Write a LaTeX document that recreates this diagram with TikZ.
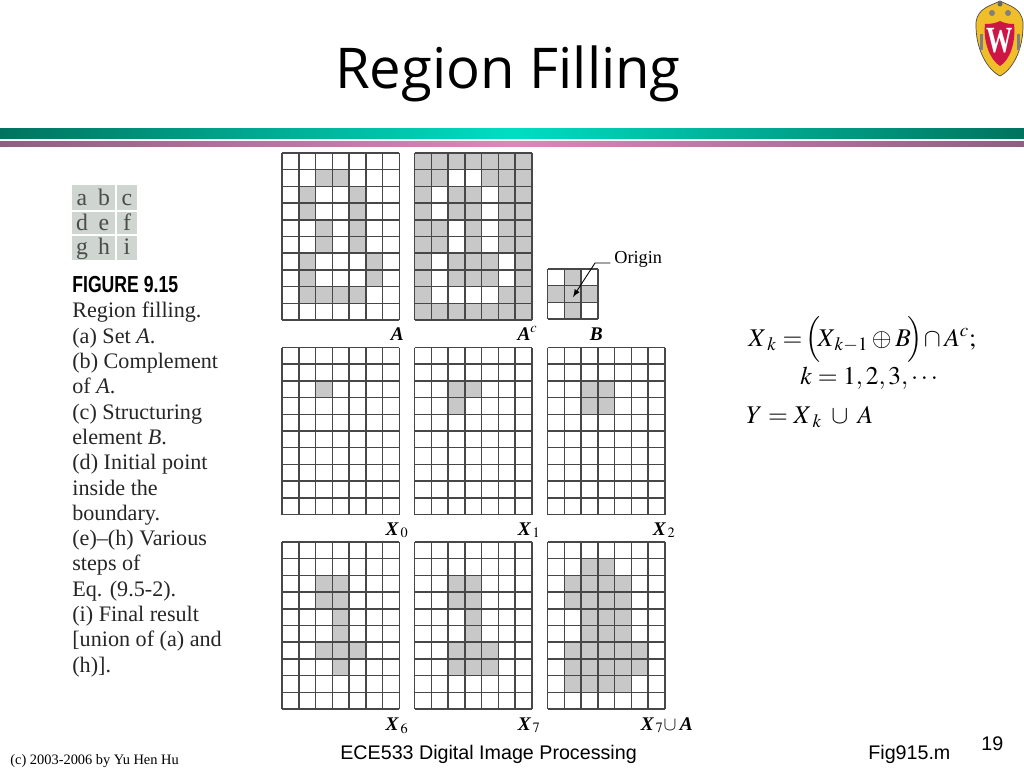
\documentclass[tikz,border=0pt]{standalone}
\usepackage{amsmath}
\usepackage{mathptmx}
\usepackage[no-math]{fontspec}
\setmainfont{Liberation Serif}
\newfontfamily\titlefont{Open Sans}
\newfontfamily\arialfont{Liberation Sans}
\definecolor{tealDark}{HTML}{00735F}
\definecolor{tealLight}{HTML}{00DEC2}
\definecolor{mauveDark}{HTML}{8F5F80}
\definecolor{mauveLight}{HTML}{DA88BA}
\definecolor{cellColor}{HTML}{C8C8C8}
\definecolor{tableColor}{HTML}{CFD5D1}
\definecolor{shieldColor}{HTML}{F0BE28}
\definecolor{crestColor}{HTML}{CE1646}
\newcommand{\boldIt}[1]{\textbf{\textit{#1}}}
\newcommand{\regionGrid}[5]{%
  \foreach \c/\r in {#5} {
    \fill[cellColor] (#1+16.75*\c,#2+16.7*\r) rectangle ++(16.75,16.7);
  }
  \foreach \c in {0,...,#3} {
    \draw[gridEdge] (#1+16.75*\c,#2) -- ++(0,16.7*#4);
  }
  \foreach \r in {0,...,#4} {
    \draw[gridEdge] (#1,#2+16.7*\r) -- ++(16.75*#3,0);
  }
}
\begin{document}
\begin{tikzpicture}[x=0.02cm,y=-0.02cm]

  \tikzstyle{gridEdge} = [line width=0.85pt, black!72];
  \tikzstyle{gridLabel} = [inner sep=0pt, anchor=base east, font=\fontsize{11}{11}\selectfont];
  \tikzstyle{formula} = [inner sep=0pt, anchor=base west, font=\fontsize{14.5}{14.5}\selectfont];
  \tikzstyle{footer} = [inner sep=0pt, anchor=base west, font=\arialfont\fontsize{11.2}{11.2}\selectfont];
  \tikzstyle{tableLetter} = [inner sep=0pt, anchor=base, text=black!70, font=\fontsize{13.5}{13.5}\selectfont];

  \useasboundingbox (0,0) rectangle (1024,768);

  % title and bars
  \node[inner sep=0pt, anchor=base, font=\titlefont\fontsize{32}{32}\selectfont] (title) at (508,88) {Region Filling};
  \shade[left color=tealDark, right color=tealLight, draw=none] (0,128) rectangle (512,138);
  \shade[left color=tealLight, right color=tealDark, draw=none] (512,128) rectangle (1024,138);
  \shade[left color=mauveDark, right color=mauveLight, draw=none] (0,141) rectangle (512,146);
  \shade[left color=mauveLight, right color=mauveDark, draw=none] (512,141) rectangle (1024,146);

  % crest
  \draw[fill=shieldColor, draw=black!70, line width=0.4pt] (1000,1) .. controls (990,6) and (978,8) .. (976,22)
    .. controls (975,50) and (988,70) .. (1000,76) .. controls (1012,70) and (1024,50) .. (1023,22)
    .. controls (1021,8) and (1010,6) .. (1000,1) -- cycle;
  \fill[black!50] (992,13) circle (3);
  \fill[black!50] (1008,13) circle (3);
  \fill[black!60] (1000,4) circle (2.5);
  \fill[black!50] (980,34) rectangle (983,50);
  \fill[black!50] (1017,34) rectangle (1020,50);
  \fill[crestColor] (985,24) .. controls (992,24) and (996,23) .. (1000,21) .. controls (1004,23) and (1008,24) .. (1014,24)
    .. controls (1016,42) and (1010,60) .. (1000,66) .. controls (990,60) and (983,42) .. (985,24) -- cycle;
  \node[inner sep=0pt, text=white, font=\bfseries\fontsize{15}{15}\selectfont] (crestW) at (1000,41) {\scalebox{1}[1.4]{W}};

  % side table
  \fill[tableColor] (72,185) rectangle (115,210);
  \fill[tableColor] (117,185) rectangle (137,210);
  \fill[tableColor] (72,212) rectangle (115,234);
  \fill[tableColor] (117,212) rectangle (137,234);
  \fill[tableColor] (72,236) rectangle (115,260);
  \fill[tableColor] (117,236) rectangle (137,260);
  \node[tableLetter] (ta) at (82,205) {a};
  \node[tableLetter] (tb) at (104,205) {b};
  \node[tableLetter] (tc) at (127,205) {c};
  \node[tableLetter] (td) at (82,230) {d};
  \node[tableLetter] (te) at (104,230) {e};
  \node[tableLetter] (tf) at (127,230) {f};
  \node[tableLetter] (tg) at (82,254) {g};
  \node[tableLetter] (th) at (104,254) {h};
  \node[tableLetter] (ti) at (127,254) {i};

  % caption
  \node[inner sep=0pt, anchor=base west, font=\arialfont\bfseries\fontsize{13.2}{13.2}\selectfont] (figName) at (72,292) {\scalebox{0.76}[1]{FIGURE 9.15}};
  \node[inner sep=0pt, anchor=north west, align=left, text=black!85, font=\fontsize{12.6}{14.4}\selectfont] (caption) at (72,302) {Region filling.\\
    (a) Set \textit{A}.\\
    (b) Complement\\
    of \textit{A}.\\
    (c) Structuring\\
    element \textit{B}.\\
    (d) Initial point\\
    inside the\\
    boundary.\\
    (e)--(h) Various\\
    steps of\\
    Eq. (9.5-2).\\
    (i) Final result\\
    {[}union of (a) and\\
    (h)].};

  % grids
  \regionGrid{282}{153}{7}{10}{2/1,3/1,1/2,4/2,1/3,4/3,2/4,4/4,2/5,4/5,1/6,5/6,1/7,5/7,1/8,2/8,3/8,4/8}
  \regionGrid{414.5}{153}{7}{10}{0/0,1/0,2/0,3/0,4/0,5/0,6/0,0/1,1/1,4/1,5/1,6/1,0/2,2/2,3/2,5/2,6/2,0/3,2/3,3/3,5/3,6/3,0/4,1/4,3/4,5/4,6/4,0/5,1/5,3/5,5/5,6/5,0/6,2/6,3/6,4/6,6/6,0/7,2/7,3/7,4/7,6/7,0/8,5/8,6/8,0/9,1/9,2/9,3/9,4/9,5/9,6/9}
  \regionGrid{547.5}{269}{3}{3}{1/0,0/1,1/1,2/1,1/2}
  \regionGrid{282}{347.5}{7}{10}{2/2}
  \regionGrid{414.5}{347.5}{7}{10}{2/2,3/2,2/3}
  \regionGrid{547.5}{347.5}{7}{10}{2/2,3/2,2/3,3/3}
  \regionGrid{282}{542}{7}{10}{2/2,3/2,2/3,3/3,3/4,3/5,2/6,3/6,4/6,3/7}
  \regionGrid{414.5}{542}{7}{10}{2/2,3/2,2/3,3/3,3/4,3/5,2/6,3/6,4/6,2/7,3/7,4/7}
  \regionGrid{547.5}{542}{7}{10}{2/1,3/1,1/2,2/2,3/2,4/2,1/3,2/3,3/3,4/3,2/4,3/4,4/4,2/5,3/5,4/5,1/6,2/6,3/6,4/6,5/6,1/7,2/7,3/7,4/7,5/7,1/8,2/8,3/8,4/8}

  % origin pointer
  \node[inner sep=0pt, anchor=base west, font=\fontsize{10.4}{10.4}\selectfont] (origin) at (614,263) {Origin};
  \coordinate (bend) at (595,263);
  \coordinate (centre) at (573,297);
  \draw[-latex, line width=0.5pt] ([xshift=-2pt]origin.base west) -- (bend) -- (centre);

  % grid labels
  \node[gridLabel] (lA) at (404,340) {\boldIt{A}};
  \node[gridLabel] (lAc) at (538,340) {\boldIt{A}$^{c}$};
  \node[gridLabel] (lB) at (603,340) {\boldIt{B}};
  \node[gridLabel] (lX0) at (409,535) {\boldIt{X}$_{\,0}$};
  \node[gridLabel] (lX1) at (541,535) {\boldIt{X}$_{\,1}$};
  \node[gridLabel] (lX2) at (676,535) {\boldIt{X}$_{\,2}$};
  \node[gridLabel] (lX6) at (409,730) {\boldIt{X}$_{\,6}$};
  \node[gridLabel] (lX7) at (541,730) {\boldIt{X}$_{\,7}$};
  \node[gridLabel] (lX7A) at (693,730) {\boldIt{X}$_{\,7}\cup$\,\boldIt{A}};

  % equations
  \node[formula] (eqOne) at (748,346) {$X_{\;k}=\!\Bigl(\!X_{\,k-1}\oplus B\!\Bigr)\!\cap A^{c};$};
  \node[formula] (eqTwo) at (800,384) {$k=1,2,3,\cdots$};
  \node[formula] (eqThree) at (746,423) {$Y=X_{\;k}\;\cup\;A$};

  % footer
  \node[inner sep=0pt, anchor=base west, font=\fontsize{8.2}{8.2}\selectfont] (copyright) at (10,764) {(c) 2003-2006 by Yu Hen Hu};
  \node[footer] (course) at (340,759) {ECE533 Digital Image Processing};
  \node[footer] (script) at (868,759) {Fig915.m};
  \node[footer] (page) at (981,750) {19};
\end{tikzpicture}
\end{document}
